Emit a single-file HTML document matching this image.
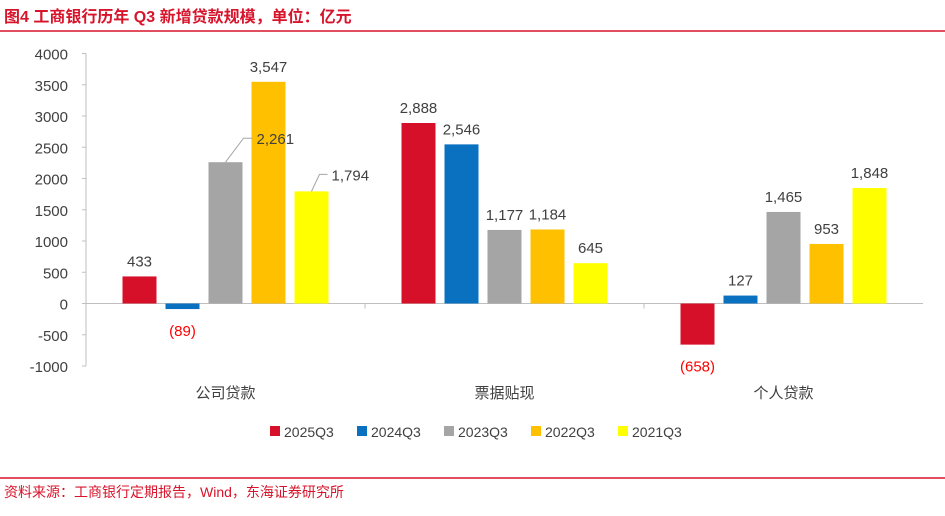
<!DOCTYPE html>
<html><head><meta charset="utf-8"><style>
body{margin:0;background:#fff;width:945px;height:511px;overflow:hidden;font-family:"Liberation Sans","Noto Sans CJK SC",sans-serif;}
</style></head><body>
<svg width="945" height="511" xmlns="http://www.w3.org/2000/svg" style="font-family:'Liberation Sans','Noto Sans CJK SC',sans-serif">
<text x="4" y="22" font-size="16" font-weight="bold" fill="#d7142b">图4  工商银行历年 Q3 新增贷款规模，单位：亿元</text>
<line x1="0" y1="31" x2="945" y2="31" stroke="#d7142b" stroke-width="1.5"/>
<line x1="0" y1="478" x2="945" y2="478" stroke="#d7142b" stroke-width="1.5"/>
<text x="4" y="497" font-size="14" fill="#d7142b">资料来源：工商银行定期报告，Wind，东海证券研究所</text>
<g id="chart"></g>
</svg>
<script>
const categories=["公司贷款","票据贴现","个人贷款"];
const seriesNames=["2025Q3","2024Q3","2023Q3","2022Q3","2021Q3"];
const colors=["#d7102a","#0a70c0","#a5a5a5","#ffc000","#ffff00"];
const s2025=[433,2888,-658];
const s2024=[-89,2546,127];
const s2023=[2261,1177,1465];
const s2022=[3547,1184,953];
const s2021=[1794,645,1848];
const yTicks=[-1000,-500,0,500,1000,1500,2000,2500,3000,3500,4000];
const series=[s2025,s2024,s2023,s2022,s2021];
const NS="http://www.w3.org/2000/svg";
const g=document.getElementById('chart');
const x0=86,gw=279,bw=34,gap=9;
function y(v){return 303.5-v*0.0625;}
function mk(t,a){const e=document.createElementNS(NS,t);for(const k in a)e.setAttribute(k,a[k]);g.appendChild(e);return e;}
function fmt(v){const s=Math.abs(v).toLocaleString('en-US');return v<0?'('+s+')':s;}
const ax=mk('line',{x1:x0,y1:y(-1000),x2:x0,y2:y(4000),stroke:'#bfbfbf'});

yTicks.forEach(t=>{
 const l=mk('line',{x1:x0-4,y1:y(t),x2:x0,y2:y(t),stroke:'#bfbfbf'});
 
 const tx=mk('text',{x:68,y:y(t)+6,'text-anchor':'end','font-size':15,fill:'#404040'});
 tx.textContent=t;
});
const zl=mk('line',{x1:x0,y1:y(0),x2:x0+3*gw,y2:y(0),stroke:'#bfbfbf'});

const labels=[];
categories.forEach((c,i)=>{
 const gx=x0+i*gw;
 if(i>0){const tk=mk('line',{x1:gx,y1:y(0),x2:gx,y2:y(0)+5,stroke:'#bfbfbf'});}
 const ct=mk('text',{x:gx+gw/2,y:398,'text-anchor':'middle','font-size':15,fill:'#404040'});
 ct.textContent=c;
 const off=(gw-(5*bw+4*gap))/2;
 series.forEach((s,j)=>{
  const v=s[i];const bx=gx+off+j*(bw+gap);
  const r=mk('rect',{x:bx,y:Math.min(y(v),y(0)),width:bw,height:Math.abs(y(v)-y(0)),fill:colors[j]});
  
  labels.push({v,bx,i,j});
 });
});
labels.forEach(({v,bx,i,j})=>{
  let lx=bx+bw/2,ly=v>=0?y(v)-10:y(v)+27,anchor='middle';
  if(i===0&&(j===2||j===4)){
   const cx=bx+bw/2,dx=j===2?18:8,dy=j===2?24:17,hx=j===2?9:8;
   const ex=cx+dx,ey=y(v)-dy;
   const ll=mk('polyline',{points:`${cx},${y(v)} ${ex},${ey} ${ex+hx},${ey}`,fill:'none',stroke:'#a5a5a5'});
   
   lx=ex+hx+4;ly=ey+6;anchor='start';
  }
  const t=mk('text',{x:lx,y:ly,'text-anchor':anchor,'font-size':15,fill:v<0?'#ff0000':'#404040'});
  t.textContent=fmt(v);
});
let lgx=270;
seriesNames.forEach((n,j)=>{
 const r=mk('rect',{x:lgx,y:426,width:10,height:10,fill:colors[j]});
 
 const t=mk('text',{x:lgx+14,y:437,'font-size':14,fill:'#404040'});
 t.textContent=n;
 lgx+=87;
});
</script>
</body></html>
